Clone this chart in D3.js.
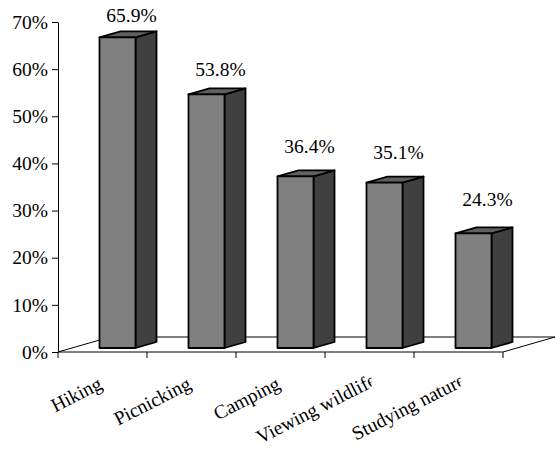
<!DOCTYPE html>
<html lang="en">
<head>
<meta charset="utf-8">
<title>Outdoor activities</title>
<script src="https://cdn.jsdelivr.net/npm/d3@7"></script>
<style>
    body { margin: 0; background: #fff; }
    svg text { font-family: "Liberation Serif", "Times New Roman", Times, Tinos, serif; }
</style>
</head>
<body>
<script type="text/javascript">

    var categories = ["Hiking", "Picnicking", "Camping", "Viewing wildlife", "Studying nature"];
    var values = [65.9, 53.8, 36.4, 35.1, 24.3];
    var yTicks = [0, 10, 20, 30, 40, 50, 60, 70];

    var width = 555;
    var height = 450;
    var fontSize = 19.5;
    var serif = "'Liberation Serif', 'Times New Roman', Times, Tinos, serif";

    var svg = d3.select("body").append("svg")
    .attr("width", width)
    .attr("height", height);

    var x = d3.scaleBand()
    .domain(categories)
    .range([58, 503]);

    var y = d3.scaleLinear()
    .domain([0, 70])
    .range([352, 22]);

    // 3D look: floor depth, where the bars sit in it, and how deep they are
    var floorDx = 52, floorDy = -15;
    var barOffX = 15, barOffY = -4;
    var barDx = 21, barDy = -6;
    var barW = 36;

    var x0 = x.range()[0], x1 = x.range()[1], base = y(0);

    // floor
    svg.append("path")
    .attr("d", "M" + x0 + "," + base + "L" + x1 + "," + base +
        "L" + (x1 + floorDx) + "," + (base + floorDy) +
        "L" + (x0 + floorDx) + "," + (base + floorDy) + "Z")
    .attr("fill", "white")
    .attr("stroke", "black")
    .attr("stroke-width", 1);

    // category ticks under the floor
    var tickXs = categories.map(function (c) { return x(c); }).concat([x1]);
    svg.selectAll("line.cat-tick")
    .data(tickXs)
    .enter()
    .append("line")
    .attr("class", "cat-tick")
    .attr("x1", function (d) { return d; })
    .attr("x2", function (d) { return d; })
    .attr("y1", base)
    .attr("y2", base + 6)
    .attr("stroke", "black");

    // y axis
    var yAxis = svg.append("g")
    .attr("transform", "translate(" + x0 + ",0)")
    .call(d3.axisLeft(y)
        .tickValues(yTicks)
        .tickFormat(function (d) { return d + "%"; })
        .tickSize(6)
        .tickSizeOuter(0)
        .tickPadding(4));
    yAxis.attr("font-family", serif).attr("font-size", fontSize);
    yAxis.selectAll("text")
    .attr("fill", "black");
    yAxis.select(".domain").attr("stroke", "black");

    // bars
    var bars = svg.selectAll("g.bar")
    .data(values)
    .enter()
    .append("g")
    .attr("class", "bar");

    function barGeom(d, i) {
        var left = x(categories[i]) + x.bandwidth() / 2 + barOffX - barW / 2;
        return { l: left, r: left + barW, t: y(d) + barOffY, b: base + barOffY };
    }

    bars.append("path")
    .attr("d", function (d, i) {
        var g = barGeom(d, i);
        return "M" + g.r + "," + g.t + "L" + (g.r + barDx) + "," + (g.t + barDy) +
            "L" + (g.r + barDx) + "," + (g.b + barDy) + "L" + g.r + "," + g.b + "Z";
    })
    .attr("fill", "#404040");

    bars.append("path")
    .attr("d", function (d, i) {
        var g = barGeom(d, i);
        return "M" + g.l + "," + g.t + "L" + (g.l + barDx) + "," + (g.t + barDy) +
            "L" + (g.r + barDx) + "," + (g.t + barDy) + "L" + g.r + "," + g.t + "Z";
    })
    .attr("fill", "#606060");

    bars.append("rect")
    .attr("x", function (d, i) { return barGeom(d, i).l; })
    .attr("y", function (d, i) { return barGeom(d, i).t; })
    .attr("width", barW)
    .attr("height", function (d, i) { var g = barGeom(d, i); return g.b - g.t; })
    .attr("fill", "#808080");

    bars.selectAll("path, rect")
    .attr("stroke", "black")
    .attr("stroke-width", 1.8)
    .attr("stroke-linejoin", "round");

    // value labels (the original drifts a little higher for the shorter bars)
    svg.selectAll("text.value")
    .data(values)
    .enter()
    .append("text")
    .attr("class", "value")
    .attr("x", function (d, i) { return x(categories[i]) + x.bandwidth() / 2 + 29; })
    .attr("y", function (d) { return 0.94 * (y(d) + barOffY) - 13; })
    .attr("text-anchor", "middle")
    .attr("font-family", serif)
    .attr("font-size", fontSize)
    .text(function (d) { return d.toFixed(1) + "%"; });

    // rotated category labels; the long ones spill past the tick and get cut, like the original
    var longLabel = 115;
    categories.forEach(function (c, i) {
        var ex = x(c) + x.bandwidth() / 2 + 1;
        var ey = 388;
        svg.append("clipPath")
        .attr("id", "catclip" + i)
        .append("rect")
        .attr("x", 0)
        .attr("y", 300)
        .attr("width", ex + 1)
        .attr("height", 150);

        var t = svg.append("g")
        .attr("clip-path", "url(#catclip" + i + ")")
        .append("text")
        .attr("font-family", serif)
        .attr("font-size", fontSize)
        .attr("transform", "translate(" + ex + "," + ey + ") rotate(-27)")
        .text(c);
        var len = t.node().getComputedTextLength();
        t.attr("x", -len + (len > longLabel ? 8 : 0));
    });

</script>
</body>
</html>
